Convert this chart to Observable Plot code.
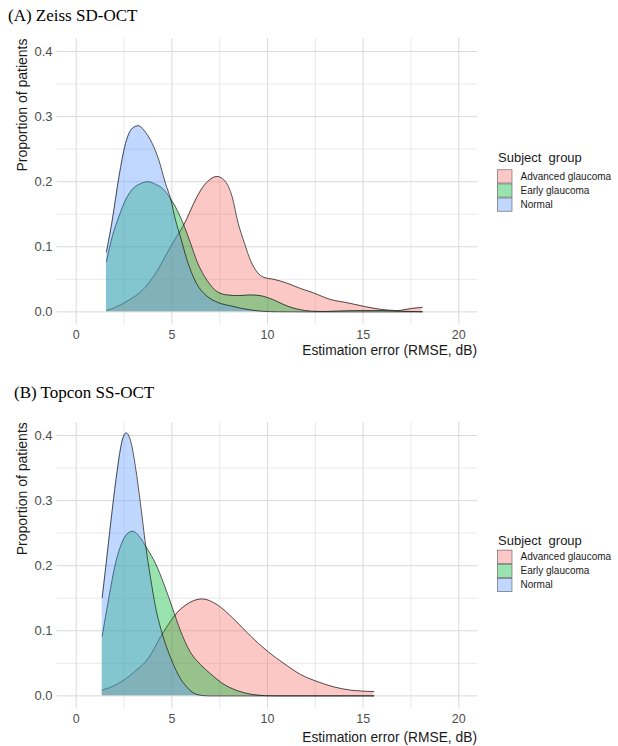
<!DOCTYPE html>
<html><head><meta charset="utf-8">
<script src="https://cdn.jsdelivr.net/npm/d3@7"></script>
<script src="https://cdn.jsdelivr.net/npm/@observablehq/plot@0.6"></script>
<style>
body{margin:0;background:#fff;}
#root{position:relative;width:618px;height:746px;overflow:hidden;background:#fff;font-family:"Liberation Sans",Arial,sans-serif;}
#root > svg{position:absolute;left:0;}
</style></head><body><div id="root"></div>
<script>
// ---- data ----
const groups = ["Advanced glaucoma", "Early glaucoma", "Normal"];
const groupColors = ["#F8766D", "#00BA38", "#619CFF"];
const xTicks = [0, 5, 10, 15, 20];
const xMinorTicks = [2.5, 7.5, 12.5, 17.5];
const yTicks = [0, 0.1, 0.2, 0.3, 0.4];
const yMinorTicks = [0.05, 0.15, 0.25, 0.35];
const panelTitles = ["(A) Zeiss SD-OCT", "(B) Topcon SS-OCT"];
const xLabel = "Estimation error (RMSE, dB)";
const yLabel = "Proportion of patients";
const legendTitle = "Subject  group";

// (A) Zeiss SD-OCT : [RMSE, proportion]
const zeissAdvanced = [[1.58,0.002],[2.05,0.007],[2.75,0.018],[3.45,0.033],[4.15,0.059],[4.84,0.095],[5.2,0.113],[5.7,0.138],[6.1,0.164],[6.41,0.182],[6.93,0.202],[7.37,0.208],[7.8,0.2],[8.15,0.177],[8.45,0.138],[8.8,0.105],[9.11,0.079],[9.46,0.061],[9.81,0.053],[10.33,0.05],[11.03,0.044],[11.72,0.036],[12.42,0.029],[13.29,0.019],[14.17,0.014],[15.03,0.0085],[15.9,0.004],[16.79,0.002],[17.48,0.005],[18.09,0.007]];
const zeissEarly = [[1.58,0.077],[1.88,0.115],[2.23,0.146],[2.58,0.172],[2.93,0.188],[3.36,0.197],[3.76,0.2],[4.15,0.196],[4.5,0.19],[4.93,0.174],[5.28,0.156],[5.63,0.133],[5.97,0.106],[6.32,0.077],[6.85,0.048],[7.37,0.031],[7.9,0.026],[8.5,0.025],[9.1,0.026],[9.6,0.025],[10.0,0.022],[10.5,0.016],[11.03,0.009],[11.6,0.004],[12.3,0.001],[13,0.0005],[14.5,0.002],[16,0.002],[17,0.001],[18.09,0.0003]];
const zeissNormal = [[1.58,0.092],[1.88,0.14],[2.23,0.207],[2.58,0.259],[2.93,0.282],[3.24,0.286],[3.62,0.276],[3.97,0.259],[4.32,0.233],[4.67,0.197],[4.93,0.174],[5.19,0.141],[5.45,0.115],[5.8,0.079],[6.3,0.043],[6.8,0.025],[7.45,0.014],[8.1,0.009],[9.1,0.003],[9.8,0.0008],[10.5,0.0002],[12,0],[14,0],[16,0],[18.09,0]];

// (B) Topcon SS-OCT : [RMSE, proportion]
const topconAdvanced = [[1.36,0.0088],[2.14,0.018],[3.01,0.036],[3.8,0.059],[4.5,0.095],[5.28,0.128],[5.97,0.144],[6.59,0.149],[7.37,0.14],[8.24,0.118],[9.11,0.092],[9.98,0.069],[10.85,0.05],[11.72,0.033],[12.6,0.022],[13.47,0.0138],[14.34,0.0088],[15.56,0.0066]];
const topconEarly = [[1.36,0.092],[1.71,0.151],[2.05,0.203],[2.4,0.236],[2.75,0.251],[2.96,0.253],[3.27,0.246],[3.71,0.226],[4.15,0.203],[4.58,0.172],[5.02,0.136],[5.45,0.1],[5.97,0.067],[6.5,0.048],[7.02,0.034],[7.6,0.02],[8.42,0.008],[9.11,0.0026],[9.9,0.0003],[10.5,0],[13,0],[15.56,0]];
const topconNormal = [[1.36,0.151],[1.62,0.218],[1.88,0.285],[2.14,0.346],[2.4,0.392],[2.61,0.404],[2.84,0.392],[3.1,0.351],[3.36,0.295],[3.62,0.233],[3.88,0.182],[4.15,0.136],[4.5,0.095],[4.93,0.059],[5.36,0.031],[5.8,0.013],[6.32,0.002],[6.9,0],[9,0],[12,0],[15.56,0]];

const panels = [
  {title: panelTitles[0], series: [zeissAdvanced, zeissEarly, zeissNormal]},
  {title: panelTitles[1], series: [topconAdvanced, topconEarly, topconNormal]}
];

// ---- layout ----
const W = 618;
const layout = [
  {svgTop: 28, titleX: 8, titleY: 21, xLabY: 355, legTitleY: 162, keyTop: 169.3},
  {svgTop: 411.7, titleX: 14, titleY: 398.3, xLabY: 741.7, legTitleY: 544.5, keyTop: 549.6}
];
const mTop = 10, mBottom = 36, panelH = 286.4;
const mLeft = 56.6, mRight = W - 477.4;

const root = document.getElementById("root");
let fillScale;

panels.forEach((p, k) => {
  const L = layout[k];
  const marks = [
    Plot.gridX(xMinorTicks, {stroke: "#e2e2e2", strokeOpacity: 1, strokeWidth: 0.8}),
    Plot.gridY(yMinorTicks, {stroke: "#e2e2e2", strokeOpacity: 1, strokeWidth: 0.8}),
    Plot.gridX(xTicks, {stroke: "#d9d9d9", strokeOpacity: 1, strokeWidth: 1}),
    Plot.gridY(yTicks, {stroke: "#d9d9d9", strokeOpacity: 1, strokeWidth: 1}),
    Plot.axisX(xTicks, {tickSize: 0, tickPadding: 5, fontSize: 12.5, label: null}),
    Plot.axisY(yTicks, {tickSize: 0, tickPadding: 4.5, fontSize: 13, label: null, tickFormat: d3.format(".1f")})
  ];
  p.series.forEach((s, i) => {
    marks.push(Plot.areaY(s, {x: d => d[0], y: d => d[1], fill: () => groups[i], fillOpacity: 0.4, curve: "monotone-x"}));
    marks.push(Plot.lineY(s, {x: d => d[0], y: d => d[1], stroke: "#1a1a1a", strokeWidth: 0.75, curve: "monotone-x"}));
  });
  const chart = Plot.plot({
    width: W,
    height: mTop + panelH + mBottom,
    marginTop: mTop, marginBottom: mBottom, marginLeft: mLeft, marginRight: mRight,
    x: {domain: [-1, 21], axis: null},
    y: {domain: [-0.02, 0.42], axis: null},
    color: {domain: groups, range: groupColors},
    style: {fontFamily: "'Liberation Sans', Arial, sans-serif", color: "#4d4d4d", background: "transparent", overflow: "visible"},
    marks
  });
  fillScale = chart.scale("color");
  chart.style.position = "absolute";
  chart.style.top = L.svgTop + "px";
  chart.style.left = "0px";
  root.appendChild(chart);
});

// ---- overlay texts & legends ----
const ov = d3.select(root).append("svg")
  .attr("width", W).attr("height", 746)
  .style("position", "absolute").style("top", "0px").style("left", "0px")
  .style("overflow", "visible");

panels.forEach((p, k) => {
  const L = layout[k];
  const panelTop = L.svgTop + mTop;
  ov.append("text").attr("x", L.titleX).attr("y", L.titleY)
    .attr("font-family", "'Liberation Serif', 'Times New Roman', serif").attr("font-size", 17).attr("fill", "#000")
    .text(p.title);
  ov.append("text").attr("transform", `translate(27,${panelTop + 0.5}) rotate(-90)`)
    .attr("text-anchor", "end").attr("font-family", "'Liberation Sans', Arial, sans-serif")
    .attr("font-size", 14).attr("fill", "#1a1a1a").text(yLabel);
  ov.append("text").attr("x", 477).attr("y", L.xLabY).attr("text-anchor", "end")
    .attr("font-family", "'Liberation Sans', Arial, sans-serif").attr("font-size", 13.8).attr("fill", "#1a1a1a")
    .text(xLabel);
  // legend
  ov.append("text").attr("x", 498).attr("y", L.legTitleY).attr("xml:space", "preserve")
    .style("white-space", "pre")
    .attr("font-family", "'Liberation Sans', Arial, sans-serif").attr("font-size", 13).attr("fill", "#1a1a1a")
    .text(legendTitle);
  groups.forEach((g, i) => {
    const y0 = L.keyTop + i * 14.1;
    ov.append("rect").attr("x", 497.5).attr("y", y0 + 0.5).attr("width", 14.5).attr("height", 13.2)
      .attr("fill", "#fff");
    ov.append("rect").attr("x", 497.5).attr("y", y0 + 0.5).attr("width", 14.5).attr("height", 13.2)
      .attr("fill", fillScale.apply(g)).attr("fill-opacity", 0.4)
      .attr("stroke", "#555").attr("stroke-width", 0.6);
    ov.append("text").attr("x", 520.5).attr("y", y0 + 7 + 3.6)
      .attr("font-family", "'Liberation Sans', Arial, sans-serif").attr("font-size", 10).attr("fill", "#1a1a1a")
      .text(g);
  });
});
</script></body></html>
